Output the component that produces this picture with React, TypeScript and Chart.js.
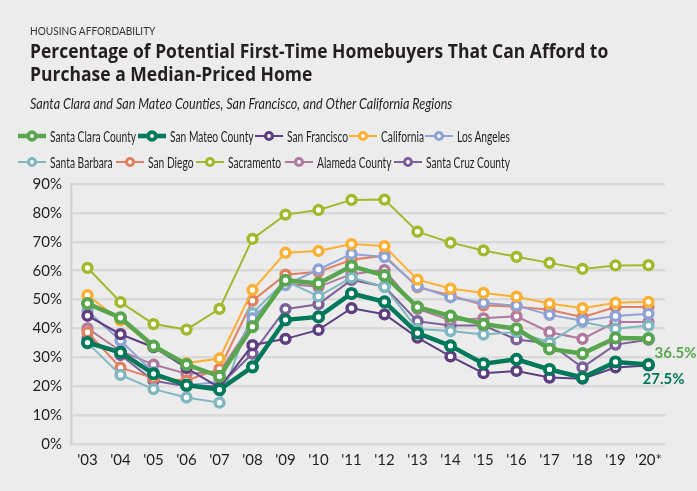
import React, { useEffect, useLayoutEffect, useRef, useState } from "react";
import { Chart, registerables } from "chart.js";

Chart.register(...registerables);

// ---------- DATA ----------
const years = ["'03", "'04", "'05", "'06", "'07", "'08", "'09", "'10", "'11", "'12", "'13", "'14", "'15", "'16", "'17", "'18", "'19", "'20*"];

const santaClara = [48.6, 43.7, 33.9, 27.5, 23.4, 40.6, 56.7, 55.6, 61.6, 58.3, 47.4, 44.3, 41.5, 39.9, 32.9, 31.3, 36.7, 36.5];
const sanMateo = [35.1, 31.7, 24.3, 20.4, 18.8, 26.7, 43.0, 44.0, 52.1, 49.2, 38.4, 34.0, 27.8, 29.3, 25.8, 23.0, 28.4, 27.5];
const sanFrancisco = [44.4, 38.0, 33.5, 26.3, 19.5, 34.2, 36.4, 39.5, 47.0, 44.9, 36.8, 30.3, 24.5, 25.3, 23.0, 22.6, 26.5, 27.2];
const california = [51.5, 42.8, 33.8, 28.0, 29.6, 53.3, 66.2, 66.8, 69.2, 68.5, 56.9, 53.8, 52.3, 51.0, 48.6, 47.0, 48.9, 49.2];
const losAngeles = [46.0, 35.8, 24.8, 20.3, 21.5, 43.6, 55.0, 60.4, 65.8, 64.7, 54.6, 50.8, 48.8, 47.9, 44.7, 42.7, 44.3, 45.1];
const santaBarbara = [35.0, 23.9, 19.0, 16.1, 14.3, 45.3, 56.5, 51.1, 57.6, 54.4, 39.8, 39.1, 37.9, 38.8, 35.2, 42.3, 39.9, 41.0];
const sanDiego = [38.7, 26.4, 22.8, 22.0, 26.0, 49.6, 58.6, 59.6, 63.8, 65.2, 54.3, 51.5, 48.0, 47.5, 46.5, 43.9, 47.4, 47.4];
const sacramento = [61.0, 49.1, 41.5, 39.6, 46.8, 71.0, 79.4, 81.0, 84.5, 84.6, 73.5, 69.7, 67.0, 64.8, 62.7, 60.6, 61.8, 61.9];
const alameda = [40.0, 32.2, 27.5, 24.3, 25.0, 42.0, 55.5, 54.4, 58.8, 60.2, 46.8, 42.8, 43.5, 44.2, 38.7, 36.4, 42.2, 42.2];
const santaCruz = [36.5, 30.8, 21.9, 20.0, 20.2, 31.3, 46.7, 48.4, 56.8, 54.5, 42.5, 41.0, 41.0, 36.2, 34.8, 26.5, 34.4, 36.1];

const seriesNames = ["Santa Clara County", "San Mateo County", "San Francisco", "California", "Los Angeles", "Santa Barbara", "San Diego", "Sacramento", "Alameda County", "Santa Cruz County"];
const seriesValues = [santaClara, sanMateo, sanFrancisco, california, losAngeles, santaBarbara, sanDiego, sacramento, alameda, santaCruz];
const seriesColors = ["#5aa64f", "#00785a", "#5d3f80", "#fbb034", "#8ea2d5", "#80b6c0", "#e08062", "#a2b82d", "#b07a9e", "#7c6299"];
const highlighted = [true, true, false, false, false, false, false, false, false, false];
const endLabelSeries = [0, 1];

const yMax = 90;
const yStep = 10;

const titleKicker = "HOUSING AFFORDABILITY";
const titleLines = ["Percentage of Potential First-Time Homebuyers That Can Afford to", "Purchase a Median-Priced Home"];
const subtitle = "Santa Clara and San Mateo Counties, San Francisco, and Other California Regions";

// ---------- LAYOUT HELPERS ----------
const BG = "#ececec";
const TEXT = "#231f20";

function Fit({ children, factor, width, style }: { children: any; factor?: number; width?: number; style?: any }) {
  const inner = useRef<HTMLSpanElement>(null);
  const [sc, setSc] = useState<{ f: number; w: number } | null>(null);
  useLayoutEffect(() => {
    const el = inner.current;
    if (!el) return;
    const natural = el.offsetWidth;
    const f = width ? width / natural : factor || 1;
    setSc({ f, w: natural * f });
  }, [children, factor, width]);
  return (
    <span style={{ display: "inline-block", whiteSpace: "nowrap", width: sc ? sc.w : undefined, overflow: "visible", verticalAlign: "top", ...style }}>
      <span ref={inner} style={{ display: "inline-block", transform: `scaleX(${sc ? sc.f : 1})`, transformOrigin: "0 0" }}>{children}</span>
    </span>
  );
}

function Marker({ color, thick }: { color: string; thick: boolean }) {
  return (
    <svg width={28} height={14} style={{ display: "block" }}>
      <line x1={0} y1={7} x2={28} y2={7} stroke={color} strokeWidth={thick ? 4.5 : 2} />
      <circle cx={14} cy={7} r={thick ? 3.8 : 3.5} fill="#fff" stroke={color} strokeWidth={thick ? 3.8 : 3.2} />
    </svg>
  );
}

const endLabelPlugin = {
  id: "endLabels",
  afterDatasetsDraw(chart: any) {
    const { ctx } = chart;
    ctx.save();
    ctx.font = "bold 15px Lato, sans-serif";
    ctx.textBaseline = "middle";
    ctx.textAlign = "left";
    endLabelSeries.forEach((di, k) => {
      const meta = chart.getDatasetMeta(di);
      const pt = meta.data[meta.data.length - 1];
      const vals = seriesValues[di];
      const text = `${vals[vals.length - 1].toFixed(1)}%`;
      ctx.fillStyle = seriesColors[di];
      const dx = k === 0 ? 6 : -6;
      ctx.fillText(text, pt.x + dx, pt.y + 15);
    });
    ctx.restore();
  },
};

export default function App() {
  const canvasRef = useRef<HTMLCanvasElement>(null);

  useEffect(() => {
    const canvas = canvasRef.current;
    if (!canvas) return;
    const datasets = seriesNames.map((name, i) => ({
      label: name,
      data: seriesValues[i],
      borderColor: seriesColors[i],
      backgroundColor: "#ffffff",
      pointBackgroundColor: "#ffffff",
      pointBorderColor: seriesColors[i],
      borderWidth: highlighted[i] ? 4.5 : 2,
      pointRadius: highlighted[i] ? 4.6 : 4.4,
      pointBorderWidth: highlighted[i] ? 3.9 : 3.5,
      pointHoverRadius: 4,
      tension: 0,
      fill: false,
    }));
    const tickFont = { family: "Lato, sans-serif", size: 15, weight: "normal" as any };
    const chart = new Chart(canvas, {
      type: "line",
      data: { labels: years, datasets },
      plugins: [endLabelPlugin],
      options: {
        animation: false,
        responsive: false,
        maintainAspectRatio: false,
        devicePixelRatio: 1,
        layout: { padding: { top: 184, right: 32, bottom: 0, left: 0 } },
        plugins: { legend: { display: false }, tooltip: { enabled: false }, title: { display: false } },
        scales: {
          x: {
            offset: true,
            grid: { display: false, drawTicks: false },
            border: { display: false },
            ticks: { color: TEXT, font: tickFont, padding: 7, maxRotation: 0, autoSkip: false },
            afterFit: (s: any) => { s.height = 47; },
          },
          y: {
            min: 0,
            max: yMax,
            grid: { color: "#d9d9d9", lineWidth: 2.5, drawTicks: false },
            border: { display: true, color: "#d4d4d4", width: 2.5 },
            ticks: { stepSize: yStep, color: TEXT, font: tickFont, padding: 9, callback: (v: any) => `${v}%` },
            afterFit: (s: any) => { s.width = 71; },
          },
        },
      } as any,
    });
    return () => chart.destroy();
  }, []);

  const rows = [seriesNames.slice(0, 5).map((_, k) => k), seriesNames.slice(5).map((_, k) => k + 5)];

  return (
    <div style={{ position: "absolute", left: 0, top: 0, width: 697, height: 491, background: BG, overflow: "hidden", color: TEXT }}>
      <canvas ref={canvasRef} width={697} height={491} style={{ position: "absolute", left: 0, top: 0, width: 697, height: 491 }} />
      <div style={{ position: "absolute", left: 30, top: 25, fontFamily: "Lato, sans-serif", fontSize: 10.5, lineHeight: "12px", color: "#333" }}>
        <Fit width={125}>{titleKicker}</Fit>
      </div>
      {titleLines.map((line, i) => (
        <div key={i} style={{ position: "absolute", left: 30, top: 39 + i * 23, fontFamily: "'Open Sans', sans-serif", fontWeight: 700, fontSize: 20, lineHeight: "24px" }}>
          <Fit width={i === 0 ? 578 : 282}>{line}</Fit>
        </div>
      ))}
      <div style={{ position: "absolute", left: 30, top: 94, fontFamily: "Lato, sans-serif", fontStyle: "italic", fontSize: 15.5, lineHeight: "18px" }}>
        <Fit width={422}>{subtitle}</Fit>
      </div>
      {rows.map((row, r) => (
        <div key={r} style={{ position: "absolute", left: 18, top: 127 + r * 26, width: 492, height: 18, display: "flex", justifyContent: "space-between", alignItems: "center" }}>
          {row.map((i) => (
            <div key={i} style={{ display: "flex", alignItems: "center" }}>
              <Marker color={seriesColors[i]} thick={highlighted[i]} />
              <div style={{ marginLeft: 4, fontFamily: "Lato, sans-serif", fontSize: 16, lineHeight: "18px", color: TEXT }}>
                <Fit factor={0.64}>{seriesNames[i]}</Fit>
              </div>
            </div>
          ))}
        </div>
      ))}
    </div>
  );
}
